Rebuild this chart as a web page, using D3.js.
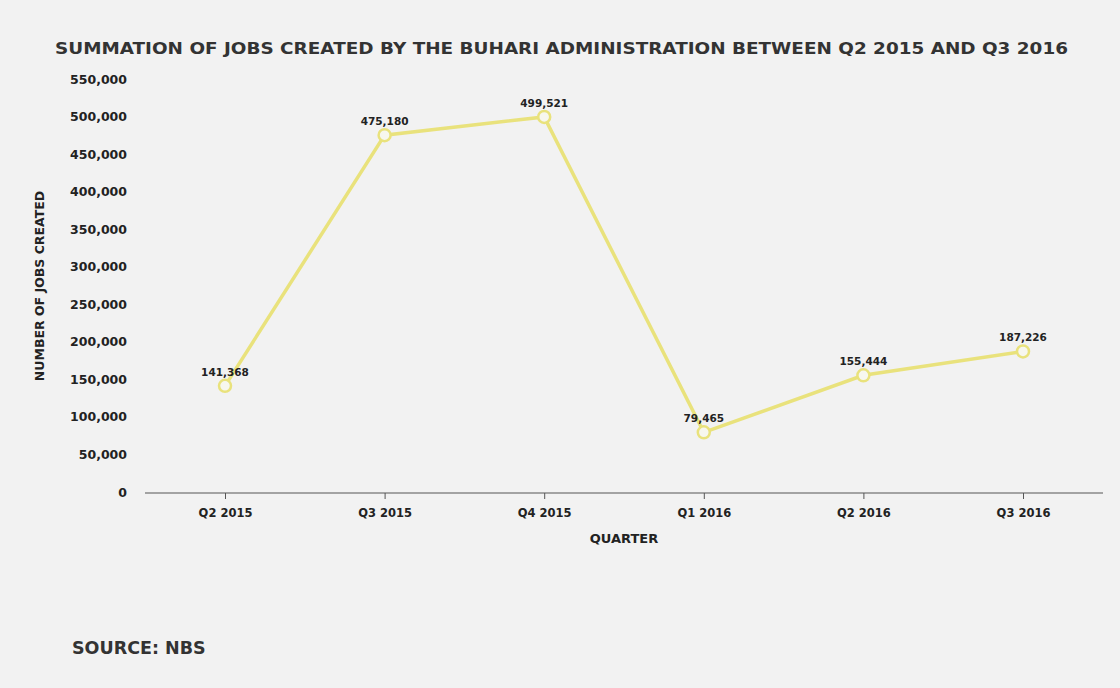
<!DOCTYPE html>
<html>
<head>
<meta charset="utf-8">
<script src="https://d3js.org/d3.v7.min.js"></script>
<style>
  body { margin: 0; background: #f2f2f2; }
  svg { font-family: "DejaVu Sans", sans-serif; }
</style>
</head>
<body>
<div id="chart"></div>
<script>
const quarters = ["Q2 2015", "Q3 2015", "Q4 2015", "Q1 2016", "Q2 2016", "Q3 2016"];
const jobs = [141368, 475180, 499521, 79465, 155444, 187226];
const yTicks = [0, 50000, 100000, 150000, 200000, 250000, 300000, 350000, 400000, 450000, 500000, 550000];

const W = 1120, H = 688;
const svg = d3.select("#chart").append("svg")
    .attr("width", W).attr("height", H);

svg.append("rect").attr("width", W).attr("height", H).attr("fill", "#f2f2f2");

const x = d3.scalePoint().domain(quarters).range([225, 1023]);
const y = d3.scaleLinear().domain([0, 550000]).range([492, 79]);
const fmt = d3.format(",");

svg.append("text")
    .attr("x", 55).attr("y", 54)
    .attr("textLength", 1013).attr("lengthAdjust", "spacingAndGlyphs")
    .attr("font-size", 15.5).attr("font-weight", 700)
    .attr("fill", "#333")
    .text("SUMMATION OF JOBS CREATED BY THE BUHARI ADMINISTRATION BETWEEN Q2 2015 AND Q3 2016");

// y axis
const yAxis = svg.append("g")
    .attr("transform", "translate(130,0)")
    .call(d3.axisLeft(y).tickValues(yTicks).tickFormat(fmt).tickSize(0));
yAxis.select(".domain").remove();
yAxis.selectAll("text")
    .attr("font-size", 12.5).attr("font-weight", 700).attr("fill", "#222")
    .attr("font-family", "DejaVu Sans, sans-serif");

// x axis
const xAxis = svg.append("g")
    .attr("transform", "translate(0,493)")
    .call(d3.axisBottom(x).tickSize(6).tickSizeOuter(0));
xAxis.select(".domain").attr("d", "M145,0H1103").attr("stroke", "#555");
xAxis.selectAll(".tick line").attr("stroke", "#555");
xAxis.selectAll("text")
    .attr("dy", "1.3em")
    .attr("font-size", 11.5).attr("font-weight", 700).attr("fill", "#222")
    .attr("font-family", "DejaVu Sans, sans-serif");

svg.append("text")
    .attr("x", 624).attr("y", 543)
    .attr("text-anchor", "middle")
    .attr("font-size", 13).attr("font-weight", 700).attr("fill", "#222")
    .text("QUARTER");

svg.append("text")
    .attr("transform", "translate(44,286) rotate(-90)")
    .attr("text-anchor", "middle")
    .attr("font-size", 12.5).attr("font-weight", 700).attr("fill", "#222")
    .text("NUMBER OF JOBS CREATED");

const data = quarters.map((q, i) => ({q, v: jobs[i]}));

svg.append("path")
    .datum(data)
    .attr("fill", "none")
    .attr("stroke", "#e9e27c")
    .attr("stroke-width", 3.5)
    .attr("d", d3.line().x(d => x(d.q)).y(d => y(d.v)));

svg.selectAll("circle.pt")
    .data(data).enter().append("circle")
    .attr("class", "pt")
    .attr("cx", d => x(d.q)).attr("cy", d => y(d.v))
    .attr("r", 6)
    .attr("fill", "#f7f7ee")
    .attr("stroke", "#e9e27c")
    .attr("stroke-width", 2.5);

svg.selectAll("text.lbl")
    .data(data).enter().append("text")
    .attr("class", "lbl")
    .attr("x", d => x(d.q)).attr("y", d => y(d.v) - 10)
    .attr("text-anchor", "middle")
    .attr("font-size", 10.5).attr("font-weight", 700).attr("fill", "#222")
    .text(d => fmt(d.v));

svg.append("text")
    .attr("x", 72).attr("y", 654)
    .attr("font-size", 17.5).attr("font-weight", 700).attr("fill", "#333")
    .text("SOURCE: NBS");
</script>
</body>
</html>
